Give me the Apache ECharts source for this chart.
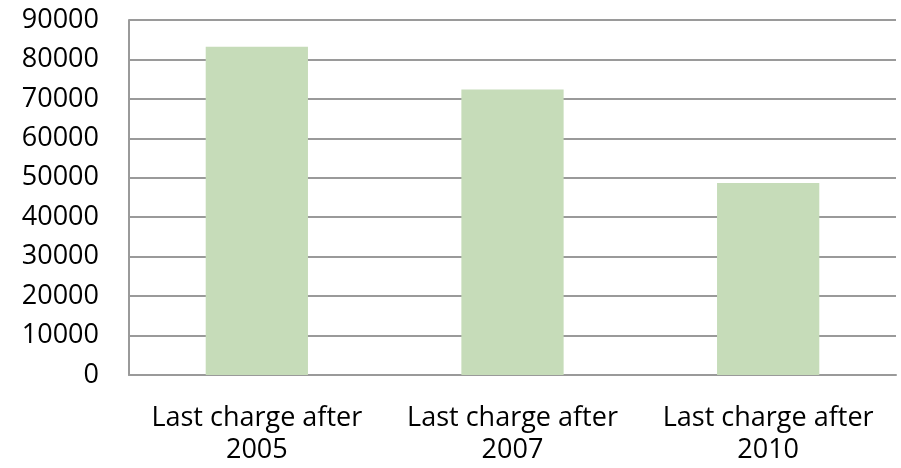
<!DOCTYPE html>
<html>
<head>
<meta charset="utf-8">
<script src="https://cdn.jsdelivr.net/npm/echarts@6/dist/echarts.min.js"></script>
<style>
html, body { margin: 0; padding: 0; background: #fff; }
#chart { width: 901px; height: 468px; }
</style>
</head>
<body>
<div id="chart"></div>
<script>
var categories = ['Last charge after\n2005', 'Last charge after\n2007', 'Last charge after\n2010'];
var values = [83200, 72400, 48700];
var yTicks = { min: 0, max: 90000, interval: 10000 };

var gridColor = '#9a9a9a';
var textFont = 'Open Sans';

var option = {
    animation: false,
    grid: {
        left: 129,
        right: 5,
        top: 20,
        bottom: 93
    },
    xAxis: {
        type: 'category',
        data: categories,
        axisLine: { lineStyle: { color: gridColor, width: 2 } },
        axisTick: { show: false },
        axisLabel: {
            interval: 0,
            color: '#000',
            fontFamily: textFont,
            fontSize: 27,
            lineHeight: 32,
            margin: 27
        }
    },
    yAxis: {
        type: 'value',
        min: yTicks.min,
        max: yTicks.max,
        interval: yTicks.interval,
        axisLine: { show: true, lineStyle: { color: gridColor, width: 2 } },
        axisTick: { show: false },
        splitLine: { lineStyle: { color: gridColor, width: 2 } },
        axisLabel: {
            color: '#000',
            fontFamily: textFont,
            fontSize: 27,
            margin: 30,
            padding: [7, 0, 0, 0],
            formatter: function (v) { return String(v); }
        }
    },
    series: [{
        type: 'bar',
        data: values,
        barWidth: '40%',
        itemStyle: { color: '#c6dcb9' }
    }]
};

var chart = echarts.init(document.getElementById('chart'));
chart.setOption(option);
</script>
</body>
</html>
